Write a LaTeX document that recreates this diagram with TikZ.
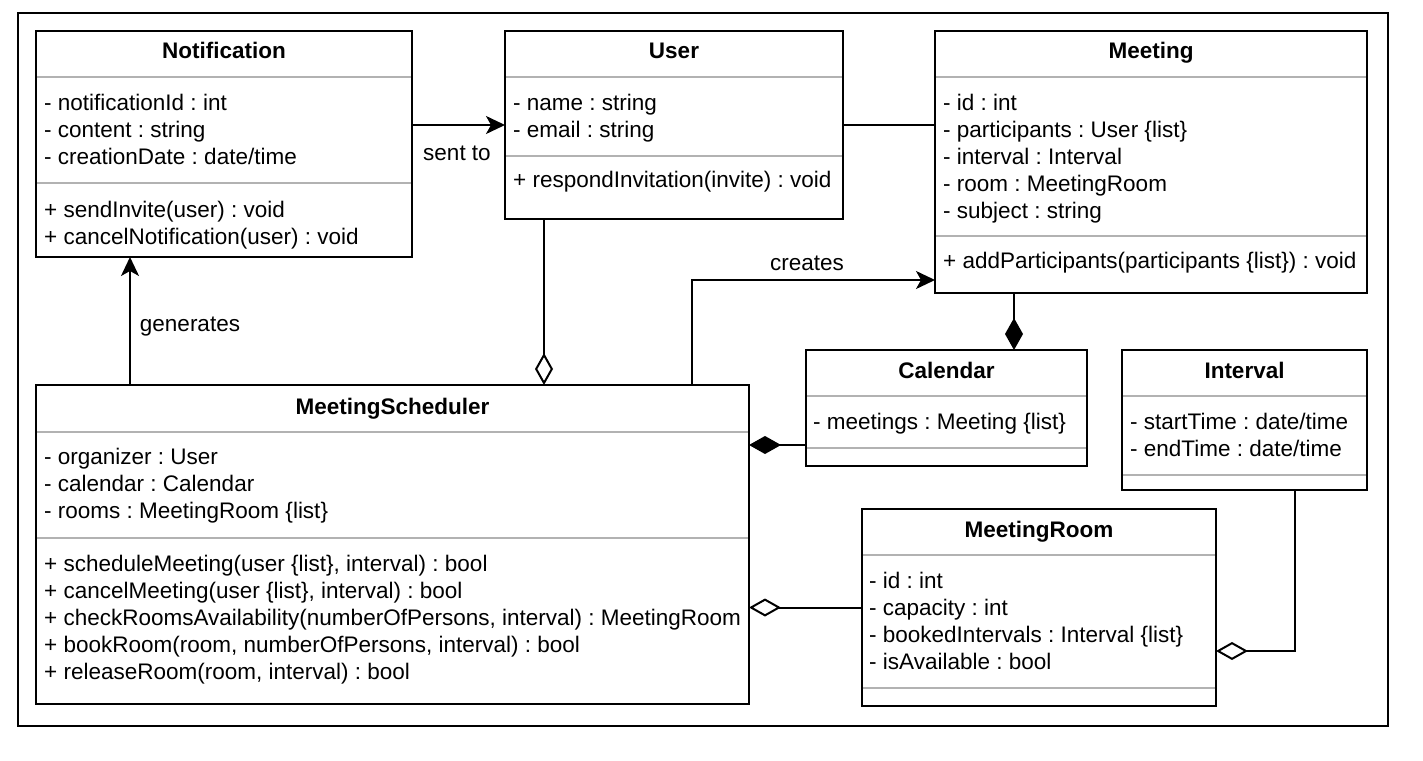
\documentclass[tikz,border=0pt]{standalone}
\usepackage{fontspec}
\setmainfont{Liberation Sans}
\usetikzlibrary{arrows.meta}
\frenchspacing

\begin{document}
\begin{tikzpicture}[x=1pt,y=-1pt,
    font=\fontsize{22.5}{27}\selectfont,
    classbox/.style={draw,line width=2pt,fill=white,inner sep=0pt,outer sep=0pt,anchor=north west},
    classname/.style={font=\fontsize{22.5}{27}\selectfont\bfseries,anchor=base,inner sep=0pt},
    member/.style={anchor=base west,inner sep=0pt},
    sep/.style={black!30,line width=2pt,shorten <=1pt,shorten >=1pt},
    conn/.style={line width=2pt},
    assoc/.style={conn,-{Stealth[length=19pt,width=18pt,inset=5pt]}},
    aggr/.style={conn,-{Diamond[fill=white,length=32pt,width=18pt]}},
    comp/.style={conn,-{Diamond[length=32pt,width=18pt]}}]
\useasboundingbox (0,0) rectangle (1423,760);
\draw[line width=2pt] (18,13) rectangle (1388,726);

% Notification
\node[classbox,minimum width=376,minimum height=226] (notification) at (36,31) {};
\node[classname] (notification-name) at (notification.north |- 0,59) {Notification};
\draw[sep] (notification.west |- 0,77) -- (notification.east |- 0,77);
\foreach \m [count=\i] in {- notificationId : int,- content : string,- creationDate : date/time}
    \node[member] (notification-attr\i) at (44,{83+27*\i}) {\m};
\draw[sep] (notification.west |- 0,183) -- (notification.east |- 0,183);
\foreach \m [count=\i] in {+ sendInvite(user) : void,+ cancelNotification(user) : void}
    \node[member] (notification-op\i) at (44,{190+27*\i}) {\m};

% User
\node[classbox,minimum width=338,minimum height=188] (user) at (505,31) {};
\node[classname] (user-name) at (user.north |- 0,59) {User};
\draw[sep] (user.west |- 0,77) -- (user.east |- 0,77);
\foreach \m [count=\i] in {- name : string,- email : string}
    \node[member] (user-attr\i) at (513,{83+27*\i}) {\m};
\draw[sep] (user.west |- 0,156) -- (user.east |- 0,156);
\node[member] (user-op1) at (513,187) {+ respondInvitation(invite) : void};

% Meeting
\node[classbox,minimum width=432,minimum height=262] (meeting) at (935,31) {};
\node[classname] (meeting-name) at (meeting.north |- 0,59) {Meeting};
\draw[sep] (meeting.west |- 0,77) -- (meeting.east |- 0,77);
\foreach \m [count=\i] in {- id : int,- participants : User \{list\},- interval : Interval,- room : MeetingRoom,- subject : string}
    \node[member] (meeting-attr\i) at (943,{83+27*\i}) {\m};
\draw[sep] (meeting.west |- 0,236) -- (meeting.east |- 0,236);
\node[member] (meeting-op1) at (943,268) {+ addParticipants(participants \{list\}) : void};

% Calendar
\node[classbox,minimum width=281,minimum height=116] (calendar) at (806,350) {};
\node[classname] (calendar-name) at (calendar.north |- 0,378) {Calendar};
\draw[sep] (calendar.west |- 0,396) -- (calendar.east |- 0,396);
\node[member] (calendar-attr1) at (813,429) {- meetings : Meeting \{list\}};
\draw[sep] (calendar.west |- 0,448) -- (calendar.east |- 0,448);

% Interval
\node[classbox,minimum width=245,minimum height=140] (interval) at (1122,350) {};
\node[classname] (interval-name) at (interval.north |- 0,378) {Interval};
\draw[sep] (interval.west |- 0,396) -- (interval.east |- 0,396);
\foreach \m [count=\i] in {- startTime : date/time,- endTime : date/time}
    \node[member] (interval-attr\i) at (1130,{402+27*\i}) {\m};
\draw[sep] (interval.west |- 0,475) -- (interval.east |- 0,475);

% MeetingRoom
\node[classbox,minimum width=354,minimum height=197] (room) at (862,509) {};
\node[classname] (room-name) at (room.north |- 0,537) {MeetingRoom};
\draw[sep] (room.west |- 0,555) -- (room.east |- 0,555);
\foreach \m [count=\i] in {- id : int,- capacity : int,- bookedIntervals : Interval \{list\},- isAvailable : bool}
    \node[member] (room-attr\i) at (869,{561+27*\i}) {\m};
\draw[sep] (room.west |- 0,688) -- (room.east |- 0,688);

% MeetingScheduler
\node[classbox,minimum width=713,minimum height=319] (scheduler) at (36,385) {};
\node[classname] (scheduler-name) at (scheduler.north |- 0,414) {MeetingScheduler};
\draw[sep] (scheduler.west |- 0,432) -- (scheduler.east |- 0,432);
\foreach \m [count=\i] in {- organizer : User,- calendar : Calendar,- rooms : MeetingRoom \{list\}}
    \node[member] (scheduler-attr\i) at (44,{437+27*\i}) {\m};
\draw[sep] (scheduler.west |- 0,538) -- (scheduler.east |- 0,538);
\foreach \m [count=\i] in {{+ scheduleMeeting(user \{list\}, interval) : bool},{+ cancelMeeting(user \{list\}, interval) : bool},{+ checkRoomsAvailability(numberOfPersons, interval) : MeetingRoom},{+ bookRoom(room, numberOfPersons, interval) : bool},{+ releaseRoom(room, interval) : bool}}
    \node[member] (scheduler-op\i) at (44,{544+27*\i}) {\m};

% relations
\draw[assoc] (notification.east |- user.west) -- (user.west);
\node (sent-label) at (457,153) {sent to};
\draw[conn] (user.east) -- (user.east -| meeting.west);
\draw[aggr] ([xshift=39pt]user.south west) -- ([xshift=39pt]user.south west |- scheduler.north);
\draw[assoc] ([xshift=94pt]scheduler.north west) -- ([xshift=94pt]scheduler.north west |- notification.south);
\node (generates-label) at (190,327) {generates};
\draw[assoc] ([xshift=656pt]scheduler.north west) |- ([yshift=13pt]meeting.south west);
\node (creates-label) at (807,263) {creates};
\draw[comp] ([xshift=79pt]meeting.south west) -- ([xshift=79pt]meeting.south west |- calendar.north);
\draw[comp] ([yshift=21pt]calendar.south west) -- ([yshift=21pt]calendar.south west -| scheduler.east);
\draw[aggr] (room.west) -- (room.west -| scheduler.east);
\draw[aggr] ([xshift=-72pt]interval.south east) |- ([yshift=55pt]room.south east);
\end{tikzpicture}
\end{document}
